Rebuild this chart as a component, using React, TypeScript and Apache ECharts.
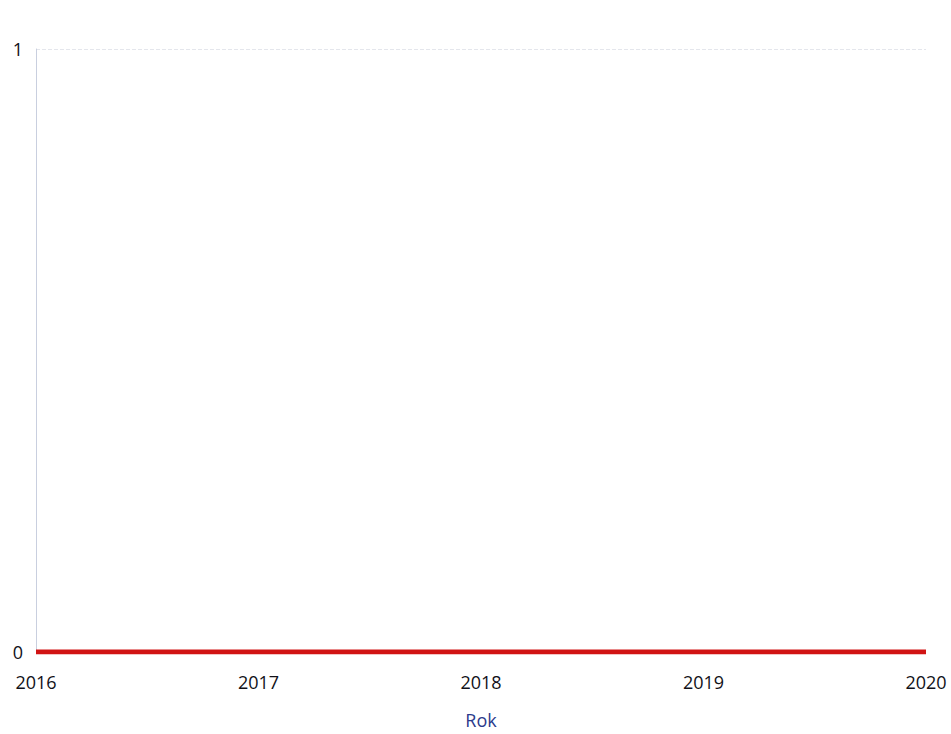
import React, { useEffect, useRef } from "react";
import * as echarts from "echarts";

const years = [2016, 2017, 2018, 2019, 2020];
const values = [0, 0, 0, 0, 0];
const yTicks = [0, 1];

export default function App() {
  const ref = useRef<HTMLDivElement>(null);
  useEffect(() => {
    if (!ref.current) return;
    const chart = echarts.init(ref.current, undefined, { renderer: "svg" });
    chart.setOption({
      animation: false,
      backgroundColor: "#ffffff",
      textStyle: { fontFamily: "Open Sans" },
      grid: { left: 36, right: 25, top: 49, bottom: 82, containLabel: false },
      xAxis: {
        type: "value",
        min: years[0],
        max: years[years.length - 1],
        interval: 1,
        name: "Rok",
        nameLocation: "middle",
        nameGap: 59,
        nameTextStyle: { color: "#2b3a8c", fontSize: 18, fontFamily: "Open Sans" },
        axisLine: { show: false },
        axisTick: { show: false },
        splitLine: { show: false },
        axisLabel: {
          color: "#111118",
          fontSize: 18,
          margin: 21,
          formatter: (v: number) => String(v),
        },
      },
      yAxis: {
        type: "value",
        min: yTicks[0],
        max: yTicks[yTicks.length - 1],
        interval: 1,
        axisLine: { show: true, lineStyle: { color: "#c9cfdf", width: 1 } },
        axisTick: { show: false },
        splitLine: { show: true, lineStyle: { color: "#e4e6ec", width: 1, type: "dashed" } },
        axisLabel: { color: "#111118", fontSize: 18, margin: 13 },
      },
      series: [
        {
          type: "line",
          data: years.map((y, i) => [y, values[i]]),
          showSymbol: false,
          symbol: "none",
          lineStyle: { color: "#d11414", width: 5 },
          z: 5,
        },
      ],
    });
    return () => chart.dispose();
  }, []);
  return (
    <div
      ref={ref}
      style={{ position: "fixed", left: 0, top: 0, width: 951, height: 734, background: "#fff" }}
    />
  );
}
